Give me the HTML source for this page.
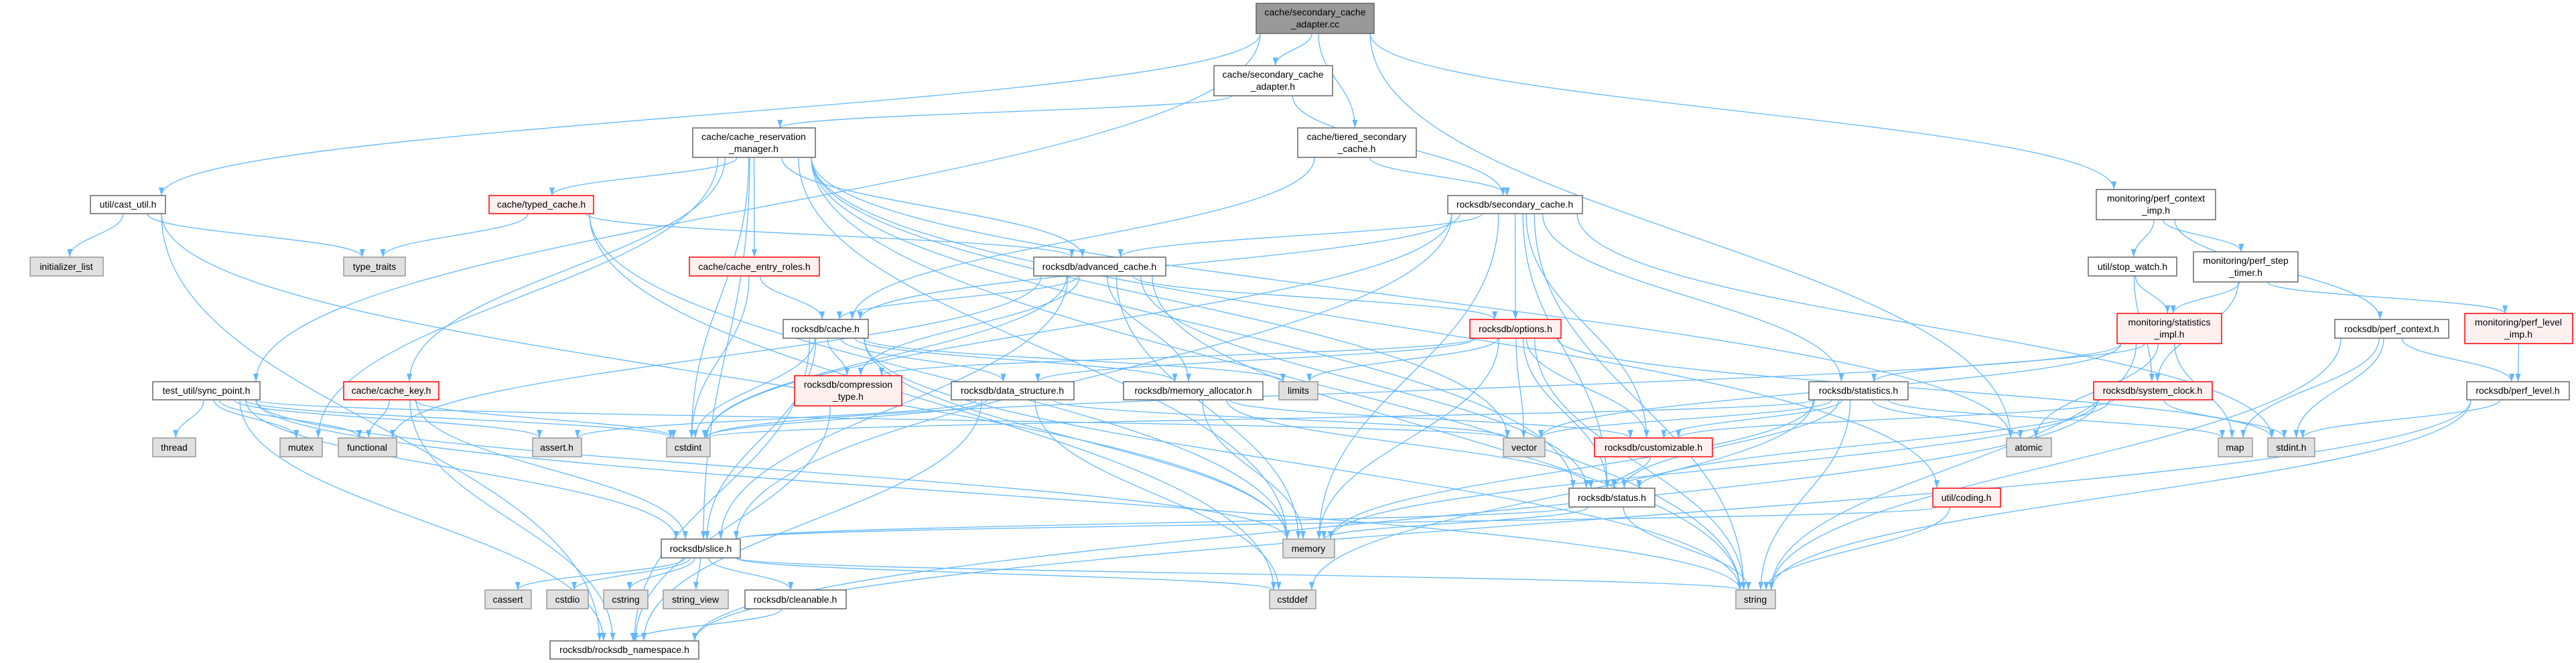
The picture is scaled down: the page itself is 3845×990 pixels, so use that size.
<!DOCTYPE html>
<html><head><meta charset="utf-8">
<style>
html,body{margin:0;padding:0;background:#fff;}
svg{display:block;}
text{font-family:"Liberation Sans",sans-serif;font-size:14px;fill:#000;}
.w{fill:#fff;stroke:#666;stroke-width:1.5;}
.r{fill:#fff0f0;stroke:#f00;stroke-width:1.5;}
.g{fill:#e0e0e0;stroke:#999;stroke-width:1.5;}
.t{fill:#999;stroke:#666;stroke-width:1.5;}
.e{fill:none;stroke:#63b8ff;stroke-width:1.3;}
</style></head>
<body>
<svg id="s" width="3845" height="990" viewBox="0 0 3845 990" xmlns="http://www.w3.org/2000/svg">
<defs><marker id="a" markerUnits="userSpaceOnUse" viewBox="0 0 12 8" refX="12" refY="4" markerWidth="12" markerHeight="8" orient="auto"><path d="M0,0L12,4L0,8z" fill="#63b8ff"/></marker></defs>
<g id="edges"></g>
<g id="nodes">
<rect id="top" class="t" x="1875" y="5" width="176" height="45"/><text x="1963" y="23" text-anchor="middle">cache/secondary_cache</text><text x="1963" y="41" text-anchor="middle">_adapter.cc</text>
<rect id="scah" class="w" x="1812" y="98" width="177" height="45"/><text x="1900" y="116" text-anchor="middle">cache/secondary_cache</text><text x="1900" y="134" text-anchor="middle">_adapter.h</text>
<rect id="crm" class="w" x="1034" y="191" width="183" height="44"/><text x="1125" y="209" text-anchor="middle">cache/cache_reservation</text><text x="1125" y="227" text-anchor="middle">_manager.h</text>
<rect id="tsc" class="w" x="1937" y="191" width="177" height="44"/><text x="2025" y="209" text-anchor="middle">cache/tiered_secondary</text><text x="2025" y="227" text-anchor="middle">_cache.h</text>
<rect id="cast" class="w" x="135" y="292" width="112" height="27"/><text x="191" y="310" text-anchor="middle">util/cast_util.h</text>
<rect id="typed" class="r" x="730" y="292" width="156" height="27"/><text x="808" y="310" text-anchor="middle">cache/typed_cache.h</text>
<rect id="sec" class="w" x="2161" y="292" width="201" height="27"/><text x="2261" y="310" text-anchor="middle">rocksdb/secondary_cache.h</text>
<rect id="pci" class="w" x="3129" y="283" width="178" height="45"/><text x="3218" y="301" text-anchor="middle">monitoring/perf_context</text><text x="3218" y="319" text-anchor="middle">_imp.h</text>
<rect id="role" class="r" x="1029" y="384" width="194" height="28"/><text x="1126" y="403" text-anchor="middle">cache/cache_entry_roles.h</text>
<rect id="adv" class="w" x="1543" y="384" width="197" height="28"/><text x="1641" y="403" text-anchor="middle">rocksdb/advanced_cache.h</text>
<rect id="initl" class="g" x="45" y="384" width="109" height="28"/><text x="99" y="403" text-anchor="middle">initializer_list</text>
<rect id="tt" class="g" x="513" y="384" width="92" height="28"/><text x="559" y="403" text-anchor="middle">type_traits</text>
<rect id="sw" class="w" x="3117" y="384" width="132" height="28"/><text x="3183" y="403" text-anchor="middle">util/stop_watch.h</text>
<rect id="pst" class="w" x="3274" y="376" width="156" height="45"/><text x="3352" y="394" text-anchor="middle">monitoring/perf_step</text><text x="3352" y="412" text-anchor="middle">_timer.h</text>
<rect id="cache" class="w" x="1169" y="477" width="127" height="28"/><text x="1232" y="496" text-anchor="middle">rocksdb/cache.h</text>
<rect id="opt" class="r" x="2194" y="477" width="136" height="28"/><text x="2262" y="496" text-anchor="middle">rocksdb/options.h</text>
<rect id="simp" class="r" x="3160" y="468" width="156" height="45"/><text x="3238" y="486" text-anchor="middle">monitoring/statistics</text><text x="3238" y="504" text-anchor="middle">_impl.h</text>
<rect id="pc" class="w" x="3485" y="477" width="170" height="28"/><text x="3570" y="496" text-anchor="middle">rocksdb/perf_context.h</text>
<rect id="pli" class="r" x="3679" y="468" width="161" height="45"/><text x="3759" y="486" text-anchor="middle">monitoring/perf_level</text><text x="3759" y="504" text-anchor="middle">_imp.h</text>
<rect id="sync" class="w" x="228" y="570" width="160" height="27"/><text x="308" y="588" text-anchor="middle">test_util/sync_point.h</text>
<rect id="key" class="r" x="513" y="570" width="142" height="27"/><text x="584" y="588" text-anchor="middle">cache/cache_key.h</text>
<rect id="comp" class="r" x="1186" y="561" width="160" height="45"/><text x="1266" y="579" text-anchor="middle">rocksdb/compression</text><text x="1266" y="597" text-anchor="middle">_type.h</text>
<rect id="ds" class="w" x="1420" y="570" width="183" height="27"/><text x="1511" y="588" text-anchor="middle">rocksdb/data_structure.h</text>
<rect id="ma" class="w" x="1677" y="570" width="208" height="27"/><text x="1781" y="588" text-anchor="middle">rocksdb/memory_allocator.h</text>
<rect id="limits" class="g" x="1909" y="570" width="58" height="27"/><text x="1938" y="588" text-anchor="middle">limits</text>
<rect id="stat" class="w" x="2700" y="570" width="148" height="27"/><text x="2774" y="588" text-anchor="middle">rocksdb/statistics.h</text>
<rect id="sc" class="r" x="3125" y="570" width="177" height="27"/><text x="3213" y="588" text-anchor="middle">rocksdb/system_clock.h</text>
<rect id="pl" class="w" x="3682" y="570" width="153" height="27"/><text x="3758" y="588" text-anchor="middle">rocksdb/perf_level.h</text>
<rect id="thread" class="g" x="228" y="654" width="64" height="28"/><text x="260" y="673" text-anchor="middle">thread</text>
<rect id="mutex" class="g" x="418" y="654" width="63" height="28"/><text x="449" y="673" text-anchor="middle">mutex</text>
<rect id="functional" class="g" x="505" y="654" width="87" height="28"/><text x="548" y="673" text-anchor="middle">functional</text>
<rect id="asserth" class="g" x="795" y="654" width="73" height="28"/><text x="831" y="673" text-anchor="middle">assert.h</text>
<rect id="cstdint" class="g" x="995" y="654" width="65" height="28"/><text x="1027" y="673" text-anchor="middle">cstdint</text>
<rect id="vector" class="g" x="2244" y="654" width="62" height="28"/><text x="2275" y="673" text-anchor="middle">vector</text>
<rect id="cust" class="r" x="2380" y="654" width="176" height="28"/><text x="2468" y="673" text-anchor="middle">rocksdb/customizable.h</text>
<rect id="atomic" class="g" x="2995" y="654" width="67" height="28"/><text x="3028" y="673" text-anchor="middle">atomic</text>
<rect id="map" class="g" x="3311" y="654" width="51" height="28"/><text x="3336" y="673" text-anchor="middle">map</text>
<rect id="stdint" class="g" x="3385" y="654" width="70" height="28"/><text x="3420" y="673" text-anchor="middle">stdint.h</text>
<rect id="status" class="w" x="2342" y="729" width="128" height="28"/><text x="2406" y="748" text-anchor="middle">rocksdb/status.h</text>
<rect id="coding" class="r" x="2885" y="729" width="101" height="28"/><text x="2935" y="748" text-anchor="middle">util/coding.h</text>
<rect id="slice" class="w" x="987" y="805" width="118" height="28"/><text x="1046" y="824" text-anchor="middle">rocksdb/slice.h</text>
<rect id="memory" class="g" x="1915" y="805" width="77" height="28"/><text x="1953" y="824" text-anchor="middle">memory</text>
<rect id="cassert" class="g" x="724" y="881" width="69" height="28"/><text x="758" y="900" text-anchor="middle">cassert</text>
<rect id="cstdio" class="g" x="816" y="881" width="62" height="28"/><text x="847" y="900" text-anchor="middle">cstdio</text>
<rect id="cstring" class="g" x="901" y="881" width="66" height="28"/><text x="934" y="900" text-anchor="middle">cstring</text>
<rect id="sv" class="g" x="990" y="881" width="97" height="28"/><text x="1038" y="900" text-anchor="middle">string_view</text>
<rect id="clean" class="w" x="1112" y="881" width="151" height="28"/><text x="1187" y="900" text-anchor="middle">rocksdb/cleanable.h</text>
<rect id="cstddef" class="g" x="1895" y="881" width="69" height="28"/><text x="1929" y="900" text-anchor="middle">cstddef</text>
<rect id="string" class="g" x="2591" y="881" width="59" height="28"/><text x="2620" y="900" text-anchor="middle">string</text>
<rect id="ns" class="w" x="821" y="957" width="222" height="27"/><text x="932" y="975" text-anchor="middle">rocksdb/rocksdb_namespace.h</text>
</g>
</svg>
<script>
var E={
top:"scah tsc cast sync pci atomic",
scah:"crm sec",
tsc:"cache sec",
crm:"atomic cstdint memory mutex vector role key typed adv slice status coding string",
role:"cstdint cache",
key:"cstdint slice ns functional",
typed:"tt adv memory cstddef",
cast:"initl tt memory ns",
sync:"thread mutex functional asserth cstdint memory string vector slice ns",
adv:"cstdint functional memory string cache comp ma opt slice status",
cache:"cstdint memory string comp ds ma limits slice ns",
comp:"ns",
ds:"asserth cstddef cstdint vector ns",
ma:"memory cust status",
sec:"cstdint memory string adv cache cust opt slice stat status stdint",
opt:"stdint limits memory string vector comp cust ds status",
stat:"atomic cstddef cstdint map memory string vector cust status",
cust:"status",
status:"memory string slice",
coding:"string slice",
slice:"cassert cstddef cstdio cstring string sv clean",
clean:"ns",
pci:"sw pst pc",
sw:"simp sc",
pst:"simp pli sc",
simp:"atomic map string vector stat cstdint",
sc:"stdint memory cust status ns",
pc:"stdint map string pl",
pli:"pl",
pl:"stdint string ns"
};
function R(id){var r=document.getElementById(id);var x=+r.getAttribute('x'),y=+r.getAttribute('y');return {x1:x,y1:y,x2:x+(+r.getAttribute('width')),y2:y+(+r.getAttribute('height'))};}
var g=document.getElementById('edges'),h='';
for(var s in E){var a=R(s);E[s].split(' ').forEach(function(t){var b=R(t);
var ac=(a.x1+a.x2)/2,bc=(b.x1+b.x2)/2;
var sx=Math.max(a.x1+6,Math.min(a.x2-6,ac+(bc-ac)*0.08));
var tx=Math.max(b.x1+6,Math.min(b.x2-6,bc+(ac-bc)*0.05));
var sy=a.y2,ty=b.y1,dy=ty-sy;
h+='<path class="e" marker-end="url(#a)" d="M'+sx+','+sy+' C'+sx+','+(sy+dy*0.45)+' '+tx+','+(ty-dy*0.45)+' '+tx+','+ty+'"/>';});}
g.innerHTML=h;
</script>
</body></html>
